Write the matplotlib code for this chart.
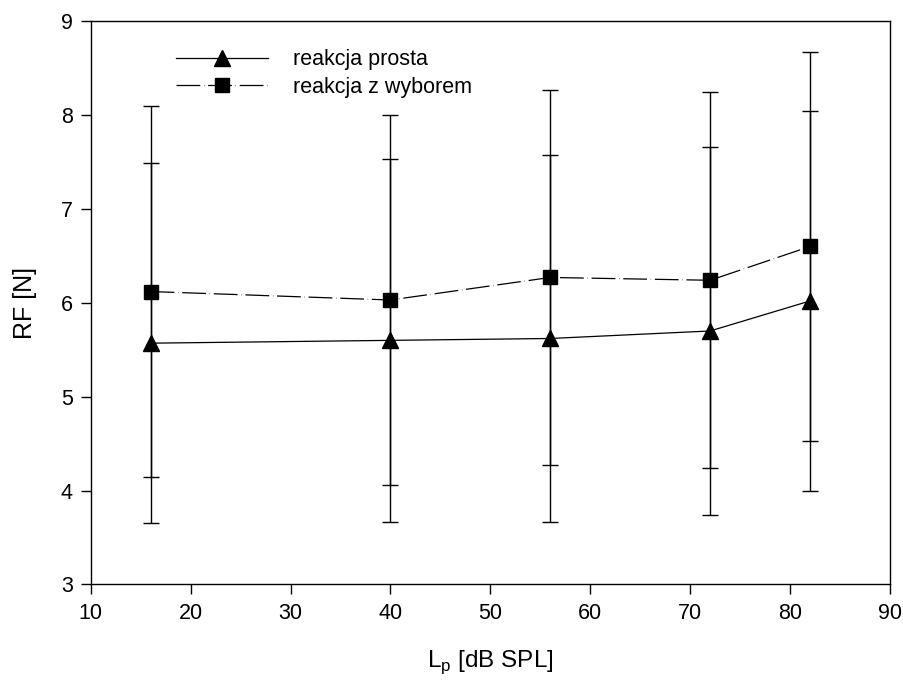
import matplotlib
matplotlib.use('Agg')
import matplotlib.pyplot as plt

plt.rcParams['font.family'] = ['Liberation Sans', 'DejaVu Sans']

# Data
levels = [16, 40, 56, 72, 82]
simple_mean = [5.57, 5.60, 5.62, 5.70, 6.02]
simple_err = [1.92, 1.93, 1.95, 1.96, 2.02]
choice_mean = [6.12, 6.03, 6.27, 6.24, 6.60]
choice_err = [1.98, 1.97, 2.00, 2.00, 2.07]
labels = ['reakcja prosta', 'reakcja z wyborem']

fig = plt.figure(figsize=(9.04, 6.82), dpi=100)
ax = fig.add_axes([0.1003, 0.143, 0.8842, 0.826])

# Simple reaction: solid line, triangles
ax.errorbar(levels, simple_mean, yerr=simple_err, fmt='none', ecolor='black',
            elinewidth=1.0, capsize=5.5, capthick=1.0, zorder=2)
ax.plot(levels, simple_mean, color='black', linewidth=0.9, marker='^',
        markersize=11, label=labels[0], zorder=3)

# Choice reaction: long-dash line, squares
ax.errorbar(levels, choice_mean, yerr=choice_err, fmt='none', ecolor='black',
            elinewidth=1.0, capsize=5.5, capthick=1.0, zorder=2)
ax.plot(levels, choice_mean, color='black', linewidth=0.9, marker='s',
        markersize=9.5, dashes=(19, 3, 0.3, 3), label=labels[1], zorder=3)

ax.set_xlim(10, 90)
ax.set_ylim(3, 9)
ax.set_xticks(range(10, 91, 10))
ax.set_yticks(range(3, 10))
ax.tick_params(direction='out', length=7, width=1, labelsize=15.5, pad=6,
               top=False, right=False)
for sp in ax.spines.values():
    sp.set_linewidth(1.0)

ax.set_xlabel('L$_\\mathregular{p}$ [dB SPL]', fontsize=17.5, labelpad=18)
ax.set_ylabel('RF [N]', fontsize=18, labelpad=17)

ax.legend(loc='upper left', bbox_to_anchor=(0.107, 0.950), frameon=False,
          borderpad=0, borderaxespad=0, fontsize=15.5, handlelength=4.27,
          handletextpad=1.16, labelspacing=0.3)

fig.savefig('out.png', dpi=100)
